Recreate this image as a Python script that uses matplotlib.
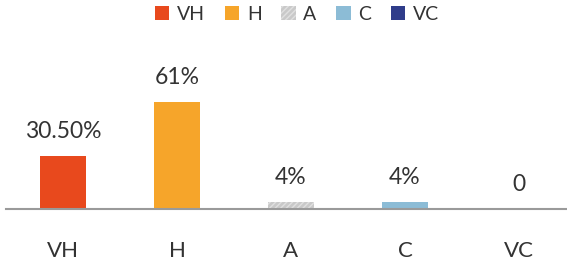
import matplotlib.pyplot as plt

categories = ['VH', 'H', 'A', 'C', 'VC']
values = [30.5, 61, 4, 4, 0]
value_labels = ['30.50%', '61%', '4%', '4%', '0']
colors = ['#E8491D', '#F6A52A', '#C9C9C9', '#8CBCD6', '#2F3C8A']
hatches = ['', '', '//////', '', '']

plt.rcParams['font.family'] = ['Lato', 'DejaVu Sans']
text_color = '#333333'

fig = plt.figure(figsize=(5.67, 2.66), dpi=100)
ax = fig.add_axes([6 / 567, 57 / 266, 561 / 567, 179 / 266])

handles = []
for i, (cat, val) in enumerate(zip(categories, values)):
    b = ax.bar(i, val, width=0.4, color=colors[i], hatch=hatches[i],
               edgecolor='#E0E0E0' if hatches[i] else colors[i],
               linewidth=0, label=cat)
    handles.append(b)
    # value label above the bar
    ax.annotate(value_labels[i], (i, val), xytext=(0, 18),
                textcoords='offset pixels', ha='center', va='baseline',
                fontsize=16.5, color=text_color)

ax.set_xlim(-0.5, 4.5 - 9 / 114)
ax.set_ylim(0, 179 / 1.75)
ax.set_xticks(range(len(categories)))
ax.set_xticklabels(categories, fontsize=16, color=text_color)
ax.tick_params(axis='x', length=0, pad=23)
ax.set_yticks([])
for s in ['top', 'right', 'left']:
    ax.spines[s].set_visible(False)
ax.spines['bottom'].set_color('#9A9A9A')
ax.spines['bottom'].set_linewidth(1.5)

fig.legend(handles=handles, labels=categories, loc='center',
           bbox_to_anchor=(297 / 567, 1 - 14 / 266), ncol=5, frameon=False,
           fontsize=14, handlelength=0.75, handleheight=0.75,
           handletextpad=0.4, columnspacing=1.0, labelcolor=text_color)

fig.savefig('out.png', dpi=100)
